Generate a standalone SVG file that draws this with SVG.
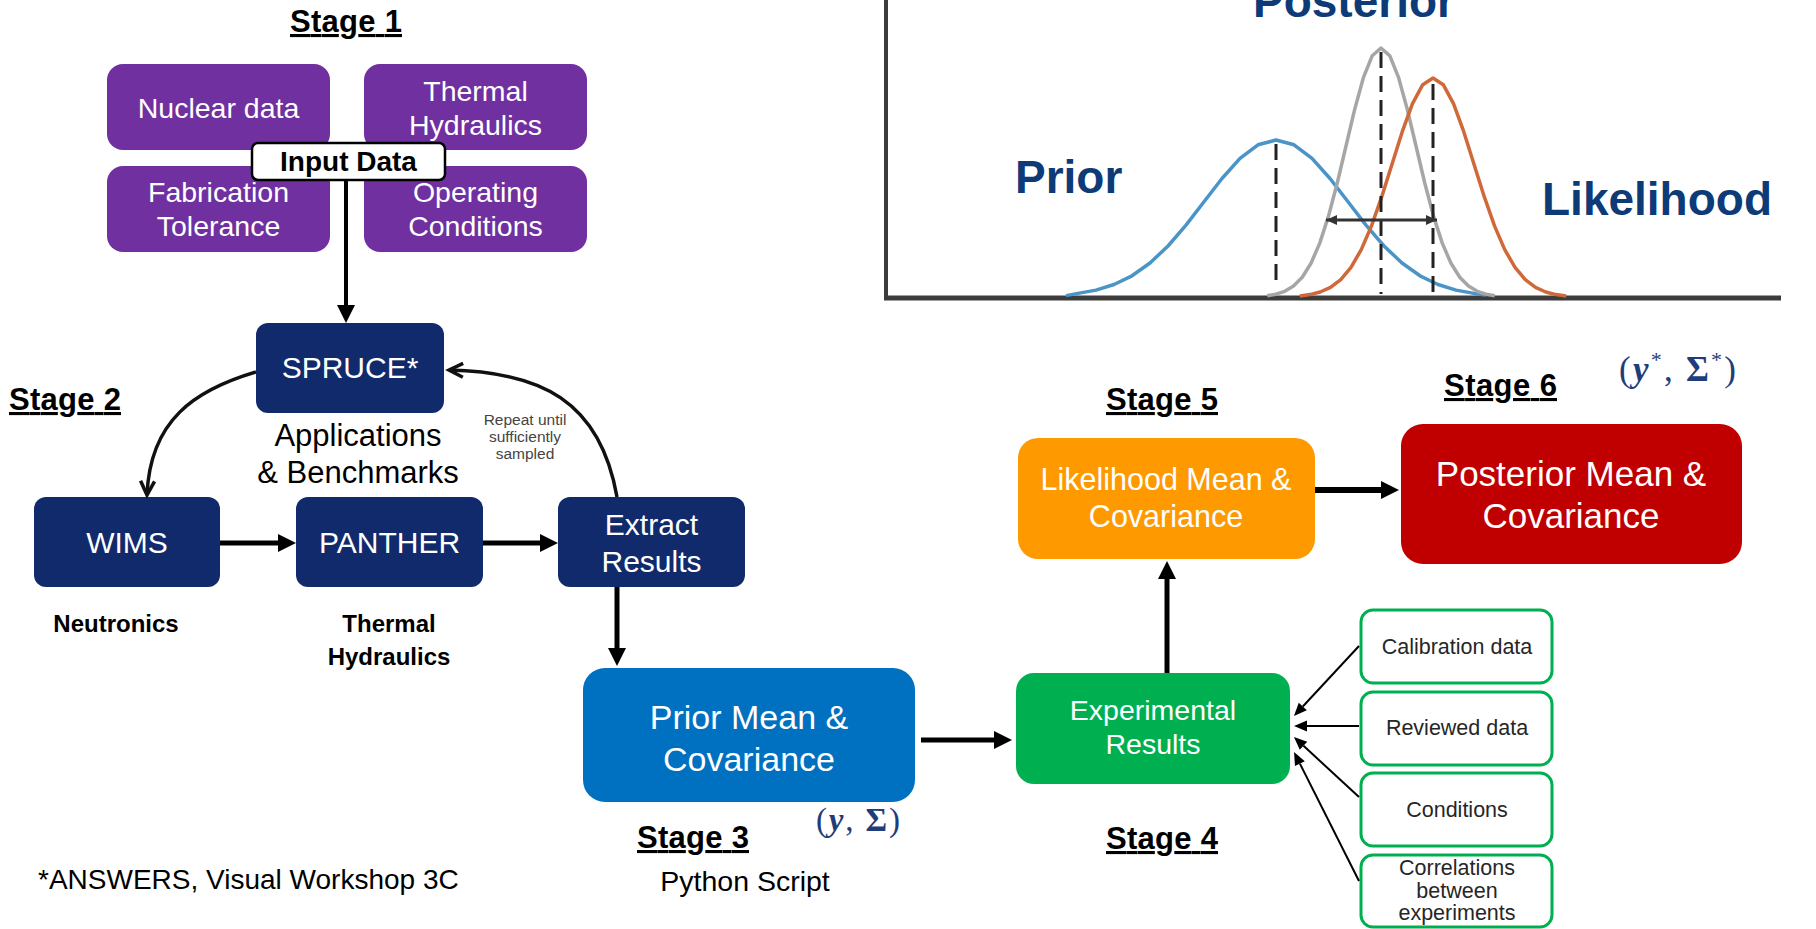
<svg xmlns="http://www.w3.org/2000/svg" width="1816" height="929" viewBox="0 0 1816 929">
<defs>
<style>
text { font-family: "Liberation Sans", Arial, sans-serif; }
.stage { font-weight: bold; font-size: 31px; text-decoration: underline; fill: #000; }
.wt { fill: #fff; text-anchor: middle; }
.purple { fill: #7030a0; }
.navy { fill: #112a6b; }
.side { fill: #fff; stroke: #00b050; stroke-width: 3; }
.sidet { fill: #262626; text-anchor: middle; font-size: 21.5px; }
.lbl { fill: #000; text-anchor: middle; }
.bold { font-weight: bold; }
.thick { stroke: #000; stroke-width: 5; fill: none; marker-end: url(#ah); }
.thin { stroke: #000; stroke-width: 2; fill: none; marker-end: url(#ahs); }
.curve { stroke: #111; stroke-width: 3.5; fill: none; marker-end: url(#open); }
.math { font-family: "Liberation Serif", "DejaVu Serif", serif; fill: #1f3d7a; }
.plotlbl { font-weight: bold; font-size: 46px; fill: #0d3b78; }
.dash { stroke: #222; stroke-width: 3; stroke-dasharray: 16 8; fill: none; }
.curveplot { fill: none; stroke-width: 3.5; stroke-linejoin: round; }
</style>
<marker id="ah" markerUnits="userSpaceOnUse" markerWidth="18" markerHeight="18" viewBox="0 0 18 18" refX="0" refY="9" orient="auto" overflow="visible">
<path d="M0,0 L18,9 L0,18 z" fill="#000"/>
</marker>
<marker id="ahs" markerUnits="userSpaceOnUse" markerWidth="13" markerHeight="11" viewBox="0 0 13 11" refX="0" refY="5.5" orient="auto" overflow="visible">
<path d="M0,0 L13,5.5 L0,11 z" fill="#000"/>
</marker>
<marker id="open" markerUnits="userSpaceOnUse" markerWidth="16" markerHeight="16" viewBox="0 0 16 16" refX="15" refY="8" orient="auto" overflow="visible">
<path d="M1,1 L15,8 L1,15" fill="none" stroke="#111" stroke-width="3.5" stroke-linejoin="miter"/>
</marker>
<marker id="dbl" markerUnits="userSpaceOnUse" markerWidth="11" markerHeight="10" viewBox="0 0 11 10" refX="11" refY="5" orient="auto-start-reverse" overflow="visible">
<path d="M0,0 L11,5 L0,10 z" fill="#333"/>
</marker>
</defs>
<rect x="0" y="0" width="1816" height="929" fill="#fff"/>

<!-- Distribution plot -->
<g id="plot">
<line x1="886" y1="0" x2="886" y2="300" stroke="#3c3c3c" stroke-width="4"/>
<line x1="884" y1="298" x2="1781" y2="298" stroke="#3c3c3c" stroke-width="5"/>
<polyline class="curveplot" stroke="#4a94c8" points="1066,295.6 1078,293.4 1096,290.1 1114,284.5 1132,275.8 1150,263.0 1168,246.0 1186,225.1 1204,201.8 1222,178.5 1240,158.4 1258,144.8 1276,140 1294,144.8 1312,158.4 1330,178.5 1348,201.8 1366,225.1 1384,246.0 1402,263.0 1420,275.8 1438,284.5 1456,290.1 1474,293.4 1486,295.0"/>
<polyline class="curveplot" stroke="#a6a6a6" points="1267.25,295.7 1276,294.2 1284.75,291.3 1293.5,286.1 1302.25,277.2 1311,263.3 1319.75,243.1 1328.5,216.1 1337.25,183.0 1346,146.0 1354.75,109.1 1363.5,77.3 1372.25,55.7 1381,48 1389.75,55.7 1398.5,77.3 1407.25,109.1 1416,146.0 1424.75,183.0 1433.5,216.1 1442.25,243.1 1451,263.3 1459.75,277.2 1468.5,286.1 1477.25,291.3 1486,294.2 1494.75,295.7"/>
<polyline class="curveplot" stroke="#d0693a" points="1299.75,295.9 1310,294.6 1320.25,292.0 1330.5,287.4 1340.75,279.6 1351,267.4 1361.25,249.6 1371.5,225.9 1381.75,196.7 1392,164.2 1402.25,131.7 1412.5,103.7 1422.75,84.7 1433,78 1443.25,84.7 1453.5,103.7 1463.75,131.7 1474,164.2 1484.25,196.7 1494.5,225.9 1504.75,249.6 1515,267.4 1525.25,279.6 1535.5,287.4 1545.75,292.0 1556,294.6 1566.25,295.9"/>
<line class="dash" x1="1276" y1="144" x2="1276" y2="280"/>
<line class="dash" x1="1381" y1="52" x2="1381" y2="294"/>
<line class="dash" x1="1433" y1="84" x2="1433" y2="294"/>
<line x1="1326" y1="220" x2="1437" y2="220" stroke="#333" stroke-width="3" marker-start="url(#dbl)" marker-end="url(#dbl)"/>
<text class="plotlbl" x="1015" y="193">Prior</text>
<text class="plotlbl" x="1542" y="215">Likelihood</text>
<text class="plotlbl" x="1253" y="17">Posterior</text>
</g>

<!-- Stage labels -->
<g id="stages">
<text class="stage" x="290" y="32" textLength="112">Stage 1</text>
<text class="stage" x="9" y="410" textLength="112">Stage 2</text>
<text class="stage" x="637" y="848" textLength="112">Stage 3</text>
<text class="stage" x="1106" y="849" textLength="112">Stage 4</text>
<text class="stage" x="1106" y="410" textLength="112">Stage 5</text>
<text class="stage" x="1444" y="396" textLength="113">Stage 6</text>
</g>

<!-- Stage 1 inputs -->
<g id="n-nuclear">
<rect class="purple" x="107" y="64" width="223" height="86" rx="16"/>
<text class="wt" x="218.5" y="118" font-size="28.5">Nuclear data</text>
</g>
<g id="n-thermal-input">
<rect class="purple" x="364" y="64" width="223" height="86" rx="16"/>
<text class="wt" x="475.5" y="101" font-size="28.5">Thermal</text>
<text class="wt" x="475.5" y="135" font-size="28.5">Hydraulics</text>
</g>
<g id="n-fabrication">
<rect class="purple" x="107" y="166" width="223" height="86" rx="16"/>
<text class="wt" x="218.5" y="202" font-size="28.5">Fabrication</text>
<text class="wt" x="218.5" y="236" font-size="28.5">Tolerance</text>
</g>
<g id="n-operating">
<rect class="purple" x="364" y="166" width="223" height="86" rx="16"/>
<text class="wt" x="475.5" y="202" font-size="28.5">Operating</text>
<text class="wt" x="475.5" y="236" font-size="28.5">Conditions</text>
</g>
<g id="n-input-data">
<rect x="252" y="143" width="193" height="37" rx="6" fill="#fff" stroke="#000" stroke-width="2.5"/>
<text class="lbl bold" x="348.5" y="171" font-size="28">Input Data</text>
</g>

<!-- Stage 2 -->
<g id="n-spruce">
<rect class="navy" x="256" y="323" width="188" height="90" rx="12"/>
<text class="wt" x="350" y="378" font-size="30">SPRUCE*</text>
</g>
<g id="n-applications">
<text class="lbl" x="358" y="446" font-size="31">Applications</text>
<text class="lbl" x="358" y="483" font-size="31">&amp; Benchmarks</text>
</g>
<g id="n-wims">
<rect class="navy" x="34" y="497" width="186" height="90" rx="12"/>
<text class="wt" x="127" y="553" font-size="30">WIMS</text>
</g>
<g id="n-panther">
<rect class="navy" x="296" y="497" width="187" height="90" rx="12"/>
<text class="wt" x="389.5" y="553" font-size="30">PANTHER</text>
</g>
<g id="n-extract">
<rect class="navy" x="558" y="497" width="187" height="90" rx="12"/>
<text class="wt" x="651.5" y="535" font-size="30">Extract</text>
<text class="wt" x="651.5" y="572" font-size="30">Results</text>
</g>
<g id="n-neutronics">
<text class="lbl bold" x="116" y="632" font-size="24">Neutronics</text>
</g>
<g id="n-thermal-hydraulics">
<text class="lbl bold" x="389" y="632" font-size="24">Thermal</text>
<text class="lbl bold" x="389" y="665" font-size="24">Hydraulics</text>
</g>
<g id="n-repeat">
<text x="525" y="425" font-size="15.5" fill="#444" text-anchor="middle">Repeat until</text>
<text x="525" y="442" font-size="15.5" fill="#444" text-anchor="middle">sufficiently</text>
<text x="525" y="459" font-size="15.5" fill="#444" text-anchor="middle">sampled</text>
</g>

<!-- Stage 3 -->
<g id="n-prior">
<rect x="583" y="668" width="332" height="134" rx="22" fill="#0070c0"/>
<text class="wt" x="749" y="729" font-size="34">Prior Mean &amp;</text>
<text class="wt" x="749" y="771" font-size="34">Covariance</text>
</g>
<g id="n-prior-math">
<text class="math" x="816" y="831" font-size="33" textLength="84"><tspan>(</tspan><tspan font-weight="bold" font-style="italic">y</tspan><tspan>, </tspan><tspan font-weight="bold">Σ</tspan><tspan>)</tspan></text>
</g>
<g id="n-python">
<text class="lbl" x="745" y="891" font-size="28.5">Python Script</text>
</g>

<!-- Stage 4 -->
<g id="n-experimental">
<rect x="1016" y="673" width="274" height="111" rx="18" fill="#00b050"/>
<text class="wt" x="1153" y="720" font-size="28.5">Experimental</text>
<text class="wt" x="1153" y="754" font-size="28.5">Results</text>
</g>
<g id="n-calibration">
<rect class="side" x="1361" y="610" width="191" height="73" rx="12"/>
<text class="sidet" x="1457" y="654">Calibration data</text>
</g>
<g id="n-reviewed">
<rect class="side" x="1361" y="692" width="191" height="73" rx="12"/>
<text class="sidet" x="1457" y="735">Reviewed data</text>
</g>
<g id="n-conditions">
<rect class="side" x="1361" y="773" width="191" height="73" rx="12"/>
<text class="sidet" x="1457" y="817">Conditions</text>
</g>
<g id="n-correlations">
<rect class="side" x="1361" y="855" width="191" height="72" rx="12"/>
<text class="sidet" x="1457" y="875" font-size="18.5">Correlations</text>
<text class="sidet" x="1457" y="898" font-size="18.5">between</text>
<text class="sidet" x="1457" y="920" font-size="18.5">experiments</text>
</g>

<!-- Stage 5 -->
<g id="n-likelihood">
<rect x="1018" y="438" width="297" height="121" rx="20" fill="#ff9900"/>
<text class="wt" x="1166" y="490" font-size="30.5">Likelihood Mean &amp;</text>
<text class="wt" x="1166" y="527" font-size="30.5">Covariance</text>
</g>

<!-- Stage 6 -->
<g id="n-posterior">
<rect x="1401" y="424" width="341" height="140" rx="22" fill="#c00000"/>
<text class="wt" x="1571" y="486" font-size="35">Posterior Mean &amp;</text>
<text class="wt" x="1571" y="528" font-size="35">Covariance</text>
</g>
<g id="n-posterior-math">
<text class="math" x="1619" y="381" font-size="35" textLength="117"><tspan>(</tspan><tspan font-weight="bold" font-style="italic">y</tspan><tspan font-size="22" dy="-14">*</tspan><tspan dy="14">, </tspan><tspan font-weight="bold">Σ</tspan><tspan font-size="22" dy="-14">*</tspan><tspan dy="14">)</tspan></text>
</g>

<g id="n-footnote">
<text x="38" y="889" font-size="28" fill="#000">*ANSWERS, Visual Workshop 3C</text>
</g>

<!-- Connectors -->
<g id="connectors">
<line class="thick" x1="346" y1="180" x2="346" y2="305" style="stroke-width:4"/>
<path class="curve" d="M256,372 C195,390 150,420 147,495"/>
<path class="curve" d="M617,497 C600,400 540,372 449,370"/>
<line class="thick" x1="220" y1="543" x2="278" y2="543"/>
<line class="thick" x1="483" y1="543" x2="540" y2="543"/>
<line class="thick" x1="617" y1="587" x2="617" y2="648"/>
<line class="thick" x1="921" y1="740" x2="994" y2="740"/>
<line class="thick" x1="1167" y1="673" x2="1167" y2="579"/>
<line class="thick" x1="1315" y1="490" x2="1381" y2="490" style="stroke-width:6"/>
<line class="thin" x1="1359" y1="646" x2="1302.8" y2="706.5"/>
<line class="thin" x1="1359" y1="726" x2="1307" y2="726"/>
<line class="thin" x1="1359" y1="797" x2="1303.5" y2="745.8"/>
<line class="thin" x1="1359" y1="881" x2="1299.9" y2="763.6"/>
</g>
</svg>
